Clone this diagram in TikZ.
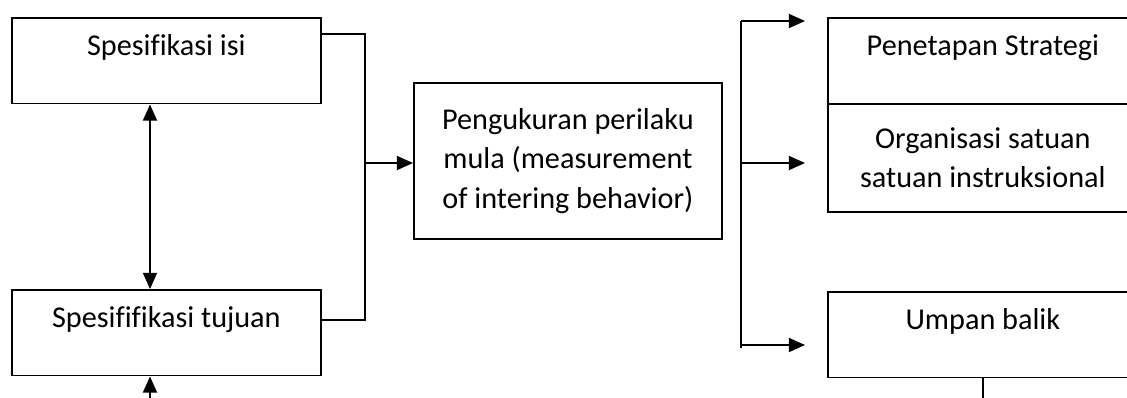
\documentclass[tikz,border=0pt]{standalone}
\usepackage{fontspec}
\setmainfont[Ligatures={NoCommon}]{Carlito}
\usetikzlibrary{arrows.meta,calc}

\begin{document}
\begin{tikzpicture}[x=0.025cm,y=-0.025cm,line width=1.2pt,
    kotak/.style={draw, anchor=north west, inner sep=0pt, align=center,
      font=\fontsize{21.5}{28.2}\selectfont},
    atas/.style={text height=27pt, text depth=34pt},
    panah/.style={-{Triangle[length=11.5pt,width=10pt]}},
    duapanah/.style={{Triangle[length=11.5pt,width=10pt]}-{Triangle[length=11.5pt,width=10pt]}}]

    \path[use as bounding box, clip] (0,0) rectangle (1127,397);

    % kotak kiri
    \node [kotak, atas, minimum width=7.725cm] (isi) at (11,17) {Spesifikasi isi};
    \node [kotak, atas, minimum width=7.725cm] (tujuan) at (11,289) {Spesififikasi tujuan};

    % kotak tengah
    \node [kotak, minimum width=7.7cm, minimum height=3.9cm] (ukur) at (413,82)
        {Pengukuran perilaku\\mula (measurement\\of intering behavior)};

    % kotak kanan
    \node [kotak, atas, minimum width=7.75cm] (strategi) at (827,17) {Penetapan Strategi};
    \node [kotak, minimum width=7.75cm, minimum height=2.7cm] (organisasi) at (827,103)
        {Organisasi satuan\\satuan instruksional};
    \node [kotak, atas, minimum width=7.75cm] (umpan) at (827,291) {Umpan balik};

    % garis kiri
    \draw [duapanah] ($(isi.south west)+(139,0)$) -- ($(tujuan.north west)+(139,0)$);
    \draw [panah] ($(tujuan.south west)+(139,25)$) -- ($(tujuan.south west)+(139,0)$);

    \coordinate (gabung) at (365,163);
    \draw (isi.north east) ++(0,17) -| (gabung);
    \draw (tujuan.north east) ++(0,31) -| (gabung);
    \draw [panah] (gabung) -- (gabung -| ukur.west);

    % cabang kanan
    \coordinate (cabangatas) at (741,21);
    \coordinate (cabang) at (741,163);
    \coordinate (cabangbawah) at (741,345);
    \draw (cabangatas) -- ($(cabangbawah)+(0,3)$);
    \draw [panah] (cabangatas) -- ++(64,0);
    \draw [panah] (cabang) -- ++(64,0);
    \draw [panah] (cabangbawah) -- ++(64,0);

    \draw (umpan.south) -- ++(0,25);

\end{tikzpicture}
\end{document}
